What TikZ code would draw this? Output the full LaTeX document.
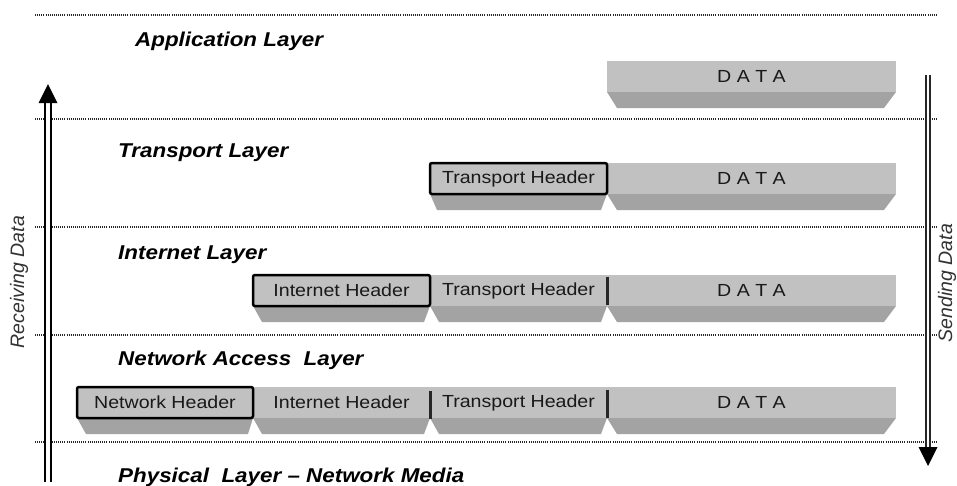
\documentclass[tikz,border=0pt]{standalone}
\usepackage{fontspec}
\setmainfont[FakeStretch=1.12]{Liberation Sans}
\newfontfamily\rotfont{Liberation Sans}
\definecolor{boxgray}{RGB}{193,193,193}
\definecolor{trapgray}{RGB}{163,163,163}
\tikzset{
  seg/.style={rectangle, fill=boxgray, inner sep=0pt, outer sep=0pt, minimum height=31pt,
    font=\fontsize{17.5}{20}\selectfont, text=black!90},
  hdr/.style={seg, draw=black, line width=2.5pt, rounded corners=2pt},
  trap/.style={fill=trapgray},
  layerlabel/.style={anchor=base west, inner sep=0pt, font=\fontsize{20}{24}\selectfont\bfseries\itshape},
  layerline/.style={draw=black!85, line width=1.1pt, dash pattern=on 1pt off 1.1pt},
  divider/.style={line width=3pt, draw=black!85},
  shaftL/.style={double=white, double distance=3.5pt, line width=2pt, draw=black},
  shaftR/.style={double=white, double distance=2.5pt, line width=1.6pt, draw=black!85},
  sidelabel/.style={rotate=90, inner sep=0pt, font=\rotfont\fontsize{19.5}{22}\selectfont\itshape, text=black!80}
}
% name, x1, x2, ytop, style, text, left inset, right inset
\newcommand{\pkt}[8]{%
  \fill[trap] (#2,#4+31) -- (#3,#4+31) -- (#3-#8,#4+47) -- (#2+#7,#4+47) -- cycle;
  \node[#5, minimum width=#3-#2] (#1) at ({(#2+#3)/2},#4+15.5) {#6};
}
\begin{document}
\begin{tikzpicture}[x=1pt,y=-1pt]
\useasboundingbox (0,0) rectangle (957,485);

% layer separators
\foreach \yy/\nm in {15/a,119/b,227/c,335/d,442/e}{
  \coordinate (l\nm w) at (35,\yy);
  \coordinate (l\nm e) at (937,\yy);
  \draw[layerline] (l\nm w) -- (l\nm e);
}

% layer labels
\node[layerlabel] (appl) at (135,46) {Application Layer};
\node[layerlabel] (tranl) at (118,157) {Transport Layer};
\node[layerlabel] (intl) at (118,259) {Internet Layer};
\node[layerlabel] (netl) at (118,365) {Network Access\ \ Layer};
\node[layerlabel] (phyl) at (118,482) {Physical\ \ Layer -- Network Media};

% row 1
\pkt{d1}{607}{896}{61}{seg}{D A T A}{10}{12}
% row 2
\pkt{d2}{607}{896}{163}{seg}{D A T A}{10}{12}
\pkt{t2}{430}{607}{163}{hdr}{Transport Header}{7}{6}
% row 3
\pkt{d3}{607}{896}{275}{seg}{D A T A}{10}{12}
\pkt{t3}{430}{607}{275}{seg}{Transport Header}{9}{6}
\pkt{i3}{253}{430}{275}{hdr}{Internet Header}{9}{6}
\draw[divider] ([yshift=-1.5pt]t3.north east) -- ([yshift=1pt]t3.south east);
% row 4
\pkt{d4}{607}{896}{387}{seg}{D A T A}{10}{12}
\pkt{t4}{430}{607}{387}{seg}{Transport Header}{9}{6}
\pkt{i4}{253}{430}{387}{seg}{Internet Header}{9}{6}
\pkt{n4}{77}{253}{387}{hdr}{Network Header}{9}{5}
\draw[divider] ([yshift=-4pt]i4.north east) -- ([yshift=-1pt]i4.south east);
\draw[divider] ([yshift=-3pt]t4.north east) -- ([yshift=0pt]t4.south east);

% receiving arrow
\coordinate (rbot) at (48,482);
\coordinate (rtop) at (48,103);
\draw[shaftL] (rbot) -- (rtop);
\fill ([xshift=-9.5pt]rtop) -- ([yshift=19pt]rtop) -- ([xshift=9.5pt]rtop) -- cycle;
\node[sidelabel] (recv) at (19,282) {Receiving Data};

% sending arrow
\coordinate (stop) at (928,75);
\coordinate (sbot) at (928,447);
\draw[shaftR] (stop) -- (sbot);
\fill ([xshift=-9.5pt]sbot) -- ([yshift=-19pt]sbot) -- ([xshift=9.5pt]sbot) -- cycle;
\node[sidelabel] (send) at (947,283) {Sending Data};
\end{tikzpicture}
\end{document}
